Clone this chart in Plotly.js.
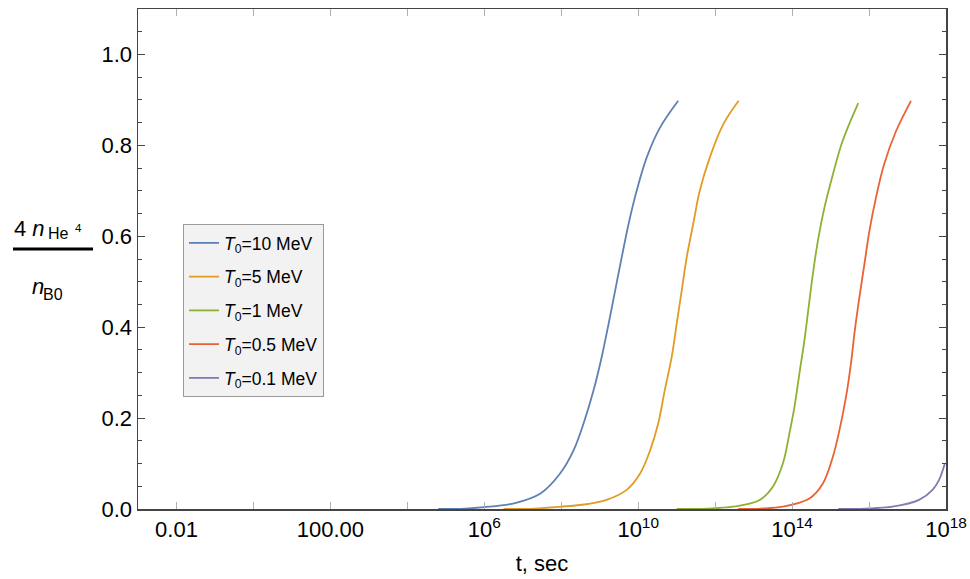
<!DOCTYPE html>
<html>
<head>
<meta charset="utf-8">
<script src="https://cdn.plot.ly/plotly-3.0.1.min.js"></script>
<style>html,body{margin:0;padding:0;background:#fff;}#chart{width:970px;height:579px;}</style>
</head>
<body>
<div id="chart"></div>
<script>
// Series names and colours
const seriesNames = ["<i>T</i><sub>0</sub>=10 MeV", "<i>T</i><sub>0</sub>=5 MeV", "<i>T</i><sub>0</sub>=1 MeV", "<i>T</i><sub>0</sub>=0.5 MeV", "<i>T</i><sub>0</sub>=0.1 MeV"];
const seriesColors = ["#5E81B5", "#E19C24", "#8FB032", "#EB6235", "#8778B3"];

const logT_10MeV  = [4.8, 5.5, 6.0, 6.8, 7.46, 7.97, 8.32, 8.58, 8.84, 9.05, 9.23, 9.40, 9.57, 9.75, 9.96, 10.22, 10.56, 11.04];
const val_10MeV   = [0.0, 0.001, 0.004, 0.013, 0.034, 0.078, 0.129, 0.188, 0.261, 0.334, 0.407, 0.480, 0.553, 0.627, 0.700, 0.773, 0.838, 0.898];

const logT_5MeV   = [6.5, 7.3, 7.97, 8.7, 9.18, 9.70, 10.05, 10.31, 10.52, 10.69, 10.87, 11.00, 11.13, 11.26, 11.43, 11.60, 11.86, 12.21, 12.61];
const val_5MeV    = [0.0, 0.001, 0.005, 0.011, 0.020, 0.042, 0.078, 0.129, 0.188, 0.261, 0.334, 0.407, 0.480, 0.553, 0.627, 0.700, 0.773, 0.846, 0.898];

const logT_1MeV   = [11.0, 11.8, 12.46, 13.16, 13.50, 13.76, 13.93, 14.06, 14.19, 14.32, 14.43, 14.54, 14.67, 14.84, 15.06, 15.31, 15.72];
const val_1MeV    = [0.0, 0.001, 0.005, 0.020, 0.049, 0.100, 0.166, 0.224, 0.298, 0.371, 0.444, 0.517, 0.590, 0.663, 0.736, 0.809, 0.893];

const logT_05MeV  = [12.6, 13.2, 13.76, 14.45, 14.80, 15.06, 15.23, 15.40, 15.53, 15.63, 15.75, 15.88, 16.01, 16.18, 16.39, 16.70, 17.09];
const val_05MeV   = [0.0, 0.001, 0.005, 0.023, 0.056, 0.115, 0.173, 0.246, 0.320, 0.393, 0.466, 0.539, 0.612, 0.685, 0.758, 0.831, 0.898];

const logT_01MeV  = [15.2, 15.9, 16.61, 17.30, 17.65, 17.82, 17.97];
const val_01MeV   = [0.0, 0.001, 0.005, 0.020, 0.042, 0.064, 0.100];

// Axis ticks
const xTickExp    = [-2, 0, 2, 4, 6, 8, 10, 12, 14, 16, 18];
const xTickText   = ["0.01", "", "100.00", "", "10<sup>6</sup>", "", "10<sup>10</sup>", "", "10<sup>14</sup>", "", "10<sup>18</sup>"];
const yTickVals   = [0.0, 0.2, 0.4, 0.6, 0.8, 1.0];
const xTitle = "t, sec";

const logTs = [logT_10MeV, logT_5MeV, logT_1MeV, logT_05MeV, logT_01MeV];
const vals  = [val_10MeV, val_5MeV, val_1MeV, val_05MeV, val_01MeV];

const traces = seriesNames.map((name, i) => ({
  type: "scatter",
  mode: "lines",
  name: name,
  legendgroup: "g" + i,
  x: logTs[i].map(e => Math.pow(10, e)),
  y: vals[i],
  line: {color: seriesColors[i], width: 1.8, shape: "spline", smoothing: 1},
  hoverinfo: "skip"
}));

const W = 970, H = 579;
const mL = 138, mR = 24, mT = 9, mB = 70;
const pw = W - mL - mR, ph = H - mT - mB;
const px = v => (v - mL) / pw;
const py = v => (H - mB - v) / ph;

const FONT = "Liberation Sans, Arial, sans-serif";

const layout = {
  width: W, height: H,
  margin: {l: mL, r: mR, t: mT, b: mB},
  paper_bgcolor: "#fff",
  plot_bgcolor: "#fff",
  font: {family: FONT, color: "#000", size: 22},
  showlegend: true,
  legend: {
    x: px(183), y: py(224), xanchor: "left", yanchor: "top",
    bgcolor: "#f2f2f2", bordercolor: "#9a9a9a", borderwidth: 1,
    font: {family: FONT, size: 17.5, color: "#000"},
    traceorder: "grouped", tracegroupgap: 8,
    itemwidth: 30
  },
  xaxis: {
    type: "log",
    range: [-3, 18],
    tickmode: "array",
    tickvals: xTickExp.map(e => Math.pow(10, e)),
    ticktext: xTickText,
    ticks: "inside", ticklen: 7, tickcolor: "#b0b0b0", tickwidth: 1,
    showline: true, linecolor: "#444", linewidth: 1.5, mirror: "ticks",
    showgrid: false, zeroline: false,
    tickfont: {family: FONT, size: 22},
    title: {text: xTitle, font: {family: FONT, size: 22}, standoff: 14}
  },
  yaxis: {
    range: [0, 1.1],
    tickmode: "array",
    tickvals: yTickVals,
    tickformat: ".1f",
    ticks: "inside", ticklen: 7, tickcolor: "#444", tickwidth: 1,
    minor: {dtick: 0.05, ticks: "inside", ticklen: 4, tickcolor: "#444"},
    showline: true, linecolor: "#444", linewidth: 1.5, mirror: "ticks",
    showgrid: false, zeroline: false,
    tickfont: {family: FONT, size: 22}
  },
  shapes: [
    {type: "line", xref: "paper", yref: "paper", x0: px(13), x1: px(93), y0: py(249), y1: py(249),
     line: {color: "#000", width: 3}}
  ],
  annotations: [
    {xref: "paper", yref: "paper", x: px(12), y: py(229), xanchor: "left", yanchor: "middle",
     text: "4 <i>n</i>", showarrow: false, font: {family: FONT, size: 22}},
    {xref: "paper", yref: "paper", x: px(46), y: py(233.5), xanchor: "left", yanchor: "middle",
     text: "He", showarrow: false, font: {family: FONT, size: 16}},
    {xref: "paper", yref: "paper", x: px(73), y: py(228), xanchor: "left", yanchor: "middle",
     text: "4", showarrow: false, font: {family: FONT, size: 11.5}},
    {xref: "paper", yref: "paper", x: px(30), y: py(286), xanchor: "left", yanchor: "middle",
     text: "<i>n</i>", showarrow: false, font: {family: FONT, size: 22}},
    {xref: "paper", yref: "paper", x: px(41), y: py(294.5), xanchor: "left", yanchor: "middle",
     text: "B0", showarrow: false, font: {family: FONT, size: 16}}
  ]
};

Plotly.newPlot("chart", traces, layout, {staticPlot: true, displayModeBar: false});
</script>
</body>
</html>
